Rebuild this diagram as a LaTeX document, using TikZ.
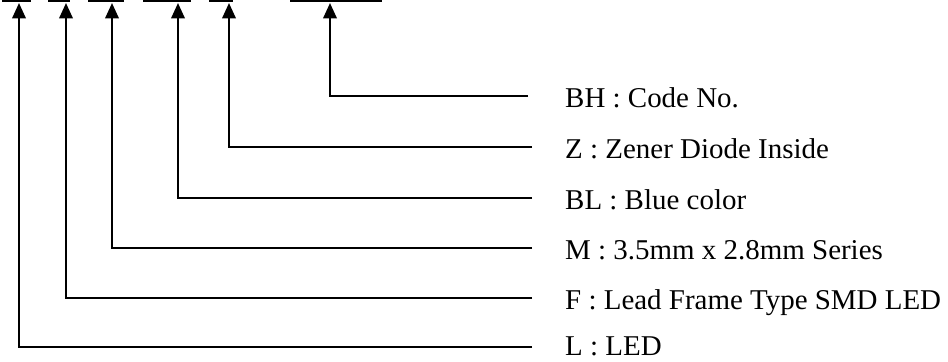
\documentclass[tikz,border=0pt]{standalone}
\usepackage{fontspec}
\setmainfont{Liberation Serif}[FakeStretch=1.01]
\usepackage{tikz}
\usetikzlibrary{positioning,arrows.meta}

\begin{document}
\begin{tikzpicture}[x=0.75pt,y=-0.75pt,>={Triangle[length=11.5pt,width=10pt]},line width=1.8pt,
  font=\fontsize{21.5}{25}\selectfont]
  \tikzstyle{bar}=[fill=black,inner sep=0pt,minimum height=2pt]
  \tikzstyle{lab}=[anchor=base west,inner sep=0pt]
  \useasboundingbox (0,0) rectangle (948,361);
  % code fields on top
  \node[bar,minimum width=21.75pt] (bL) at (16.5,1) {};
  \node[bar,minimum width=16.5pt] (bF) at (59,1) {};
  \node[bar,minimum width=27pt] (bM) at (106,1) {};
  \node[bar,minimum width=36pt] (bBL) at (167,1) {};
  \node[bar,minimum width=18pt] (bZ) at (221,1) {};
  \node[bar,minimum width=69pt] (bBH) at (336,1) {};
  \coordinate (tL) at (19,3); \coordinate (tF) at (66,3); \coordinate (tM) at (112,3);
  \coordinate (tBL) at (178,3); \coordinate (tZ) at (229,3); \coordinate (tBH) at (330,3);
  % legend
  \coordinate (eBH) at (528,96);  \node[lab] (lBH) at (564,107) {BH : Code No.};
  \coordinate (eZ) at (532,147);  \node[lab] (lZ) at (564,158) {Z : Zener Diode Inside};
  \coordinate (eBL) at (532,198); \node[lab] (lBL) at (564,209) {BL : Blue color};
  \coordinate (eM) at (532,248);  \node[lab] (lM) at (564,259) {M : 3.5mm x 2.8mm Series};
  \coordinate (eF) at (532,298);  \node[lab] (lF) at (564,309) {F : Lead Frame Type SMD LED};
  \coordinate (eL) at (532,347);  \node[lab] (lL) at (564,355) {L : LED};
  \draw[->] (eBH) -| (tBH);
  \draw[->] (eZ) -| (tZ);
  \draw[->] (eBL) -| (tBL);
  \draw[->] (eM) -| (tM);
  \draw[->] (eF) -| (tF);
  \draw[->] (eL) -| (tL);
\end{tikzpicture}
\end{document}
